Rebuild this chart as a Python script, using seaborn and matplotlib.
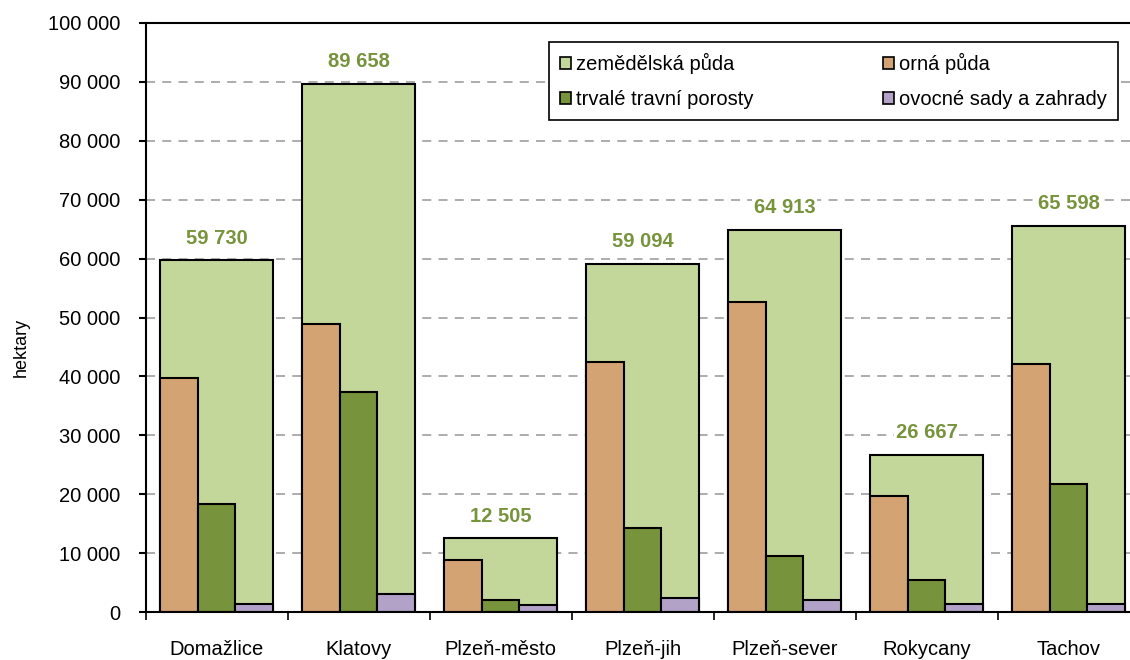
import pandas as pd
import seaborn as sns
import matplotlib.pyplot as plt
from matplotlib.patches import Patch
from matplotlib.ticker import FuncFormatter, MultipleLocator

okresy = ['Domažlice', 'Klatovy', 'Plzeň-město', 'Plzeň-jih', 'Plzeň-sever', 'Rokycany', 'Tachov']
zemedelska = [59730, 89658, 12505, 59094, 64913, 26667, 65598]
orna = [39800, 48900, 8800, 42400, 52600, 19700, 42100]
travni = [18300, 37400, 2000, 14300, 9500, 5400, 21700]
sady = [1400, 3000, 1200, 2400, 2000, 1400, 1400]

nazvy = ['zemědělská půda', 'orná půda', 'trvalé travní porosty', 'ovocné sady a zahrady']
barvy = ['#C4D79B', '#D4A373', '#77933C', '#B3A2C7']

sns.set_style('white')
plt.rcParams['font.family'] = ['Liberation Sans', 'DejaVu Sans']
plt.rcParams['text.color'] = 'black'
plt.rcParams['axes.labelcolor'] = 'black'
plt.rcParams['xtick.color'] = 'black'
plt.rcParams['ytick.color'] = 'black'

# long table for the three inner bars
df = pd.DataFrame({
    'okres': okresy * 3,
    'typ': [nazvy[1]] * 7 + [nazvy[2]] * 7 + [nazvy[3]] * 7,
    'ha': orna + travni + sady,
})

fig = plt.figure(figsize=(11.3, 6.6), dpi=100)
ax = fig.add_axes([145.5 / 1130, 48 / 660, 994 / 1130, 589 / 660])

sns.barplot(x=okresy, y=zemedelska, color=barvy[0], width=0.8, edgecolor='black',
            linewidth=1.5, saturation=1, ax=ax)
sns.barplot(data=df, x='okres', y='ha', hue='typ', palette=barvy[1:], width=0.8,
            edgecolor='black', linewidth=1.5, saturation=1, legend=False, ax=ax)

# values above the big bars
for i, v in enumerate(zemedelska):
    ax.annotate(f'{v:,}'.replace(',', ' '), (i, v), xytext=(0, 9), textcoords='offset points',
                ha='center', va='bottom', fontsize=14.5, fontweight='bold', color='#77933C',
                bbox=dict(facecolor='white', edgecolor='none', pad=1.5))

ax.set_ylim(0, 100000)
ax.set_xlim(-0.5, 6.5)
ax.yaxis.set_major_locator(MultipleLocator(10000))
ax.yaxis.set_major_formatter(FuncFormatter(lambda v, p: f'{int(v):,}'.replace(',', ' ')))
ax.grid(axis='y', color='#A6A6A6', linestyle=(0, (5, 4)), linewidth=1.3)
ax.set_axisbelow(True)

ax.set_xlabel('')
ax.set_ylabel('hektary', fontsize=13)
ax.yaxis.set_label_coords(-0.116, 0.45)
ax.tick_params(axis='y', labelsize=14.5, direction='out', length=5, width=1.5, left=True, pad=13)
ax.tick_params(axis='x', labelsize=14.5, length=0, pad=20)
ax.set_xticks([x - 0.5 for x in range(8)], minor=True)
ax.tick_params(axis='x', which='minor', direction='out', length=6, width=1.2, bottom=True)

for s in ['left', 'bottom', 'top']:
    ax.spines[s].set_color('black')
    ax.spines[s].set_linewidth(1.5)
ax.spines['right'].set_visible(False)

handles = [Patch(facecolor=barvy[i], edgecolor='black', linewidth=1.2) for i in [0, 2, 1, 3]]
labels = [nazvy[i] for i in [0, 2, 1, 3]]
leg = ax.legend(handles, labels, ncol=2, loc='upper right', bbox_to_anchor=(0.978, 0.968),
                fontsize=14.5, frameon=True, fancybox=False, edgecolor='black', framealpha=1,
                handlelength=0.55, handleheight=0.55, handletextpad=0.25, columnspacing=6.4,
                labelspacing=0.8, borderpad=0.55, borderaxespad=0)
leg.get_frame().set_linewidth(1.2)

fig.savefig('out.png', dpi=100)
